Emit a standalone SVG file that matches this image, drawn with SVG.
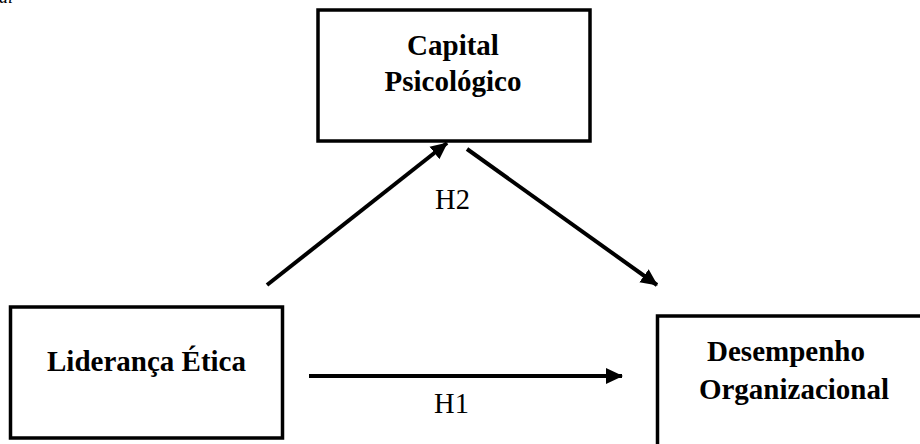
<svg xmlns="http://www.w3.org/2000/svg" width="920" height="444" viewBox="0 0 920 444">
  <style>
    .box { fill: #ffffff; stroke: #000000; stroke-width: 3.5; }
    .lbl { font-family: "Liberation Serif", "Times New Roman", serif; font-weight: bold; font-size: 29px; fill: #000000; text-anchor: middle; }
    .hyp { font-family: "Liberation Serif", "Times New Roman", serif; font-size: 28.5px; fill: #000000; text-anchor: middle; }
    .edge { stroke: #000000; stroke-width: 4; fill: none; marker-end: url(#arrow); }
    .cap { font-family: "Liberation Serif", "Times New Roman", serif; font-style: italic; font-size: 18px; fill: #000000; }
  </style>
  <defs>
    <marker id="arrow" markerUnits="userSpaceOnUse" markerWidth="17" markerHeight="17" viewBox="0 0 17 16" refX="16" refY="8" orient="auto">
      <path d="M0,0 L17,8 L0,16 Z" fill="#000000"/>
    </marker>
  </defs>
  <rect width="920" height="444" fill="#ffffff"/>
  <text class="cap" x="-1" y="3">al</text>

  <g id="capital-psicologico">
    <rect class="box" x="318" y="10" width="272" height="131"/>
    <text class="lbl" x="453" y="55">Capital</text>
    <text class="lbl" x="453" y="91">Psicológico</text>
  </g>

  <g id="lideranca-etica">
    <rect class="box" x="10.5" y="307" width="272" height="131"/>
    <text class="lbl" x="146.5" y="371">Liderança Ética</text>
  </g>

  <g id="desempenho-organizacional">
    <rect class="box" x="657.5" y="316" width="272" height="140"/>
    <text class="lbl" x="786" y="361">Desempenho</text>
    <text class="lbl" x="794" y="399">Organizacional</text>
  </g>

  <g id="connectors">
    <line class="edge" x1="267" y1="285" x2="447" y2="143"/>
    <line class="edge" x1="467" y1="149" x2="657" y2="285"/>
    <line class="edge" x1="309" y1="376" x2="622" y2="376"/>
    <text class="hyp" x="452.5" y="209">H2</text>
    <text class="hyp" x="451.5" y="413">H1</text>
  </g>
</svg>
